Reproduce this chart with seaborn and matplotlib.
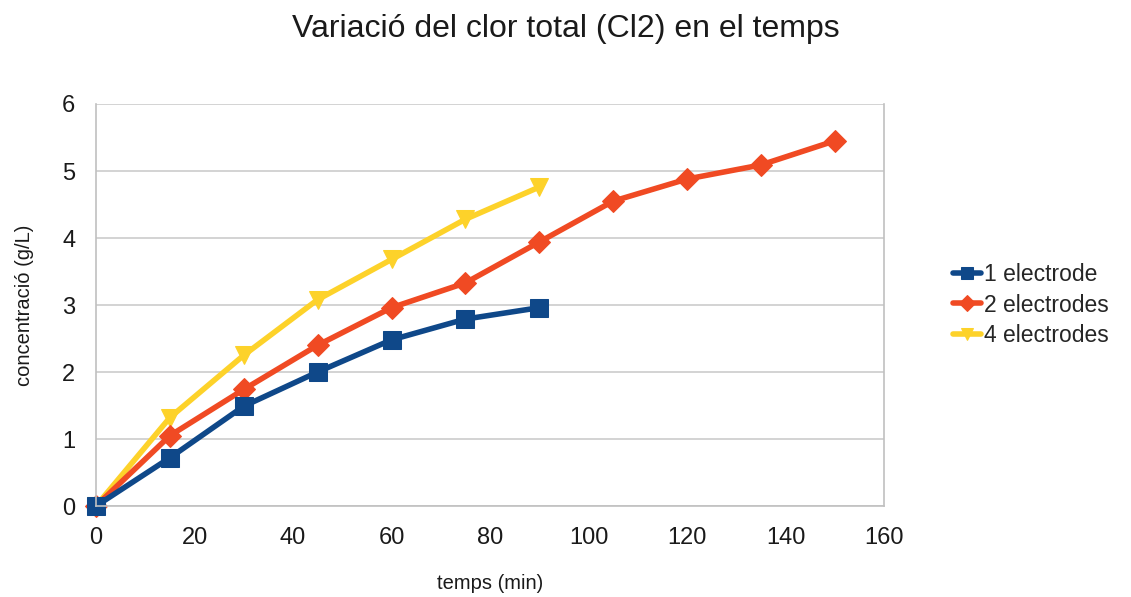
import matplotlib
matplotlib.use("Agg")
import matplotlib.pyplot as plt
import seaborn as sns
import pandas as pd

# Sampling times (min) and total chlorine concentration (g/L)
temps_1 = [0, 15, 30, 45, 60, 75, 90]
conc_1 = [0.0, 0.72, 1.49, 2.0, 2.48, 2.79, 2.96]

temps_2 = [0, 15, 30, 45, 60, 75, 90, 105, 120, 135, 150]
conc_2 = [0.0, 1.05, 1.74, 2.40, 2.96, 3.33, 3.94, 4.55, 4.88, 5.09, 5.45]

temps_4 = [0, 15, 30, 45, 60, 75, 90]
conc_4 = [0.0, 1.32, 2.25, 3.08, 3.68, 4.28, 4.76]

series_names = ["1 electrode", "2 electrodes", "4 electrodes"]
series_colors = ["#0f4889", "#f04a23", "#fdd22a"]
series_markers = ["s", "D", "v"]
series_msize = [13, 11, 13]

x_ticks = [0, 20, 40, 60, 80, 100, 120, 140, 160]
y_ticks = [0, 1, 2, 3, 4, 5, 6]

frames = []
for name, t, c in zip(series_names, [temps_1, temps_2, temps_4], [conc_1, conc_2, conc_4]):
    frames.append(pd.DataFrame({"temps": t, "conc": c, "serie": name}))
df = pd.concat(frames, ignore_index=True)

sns.set_theme(style="white")
plt.rcParams["font.family"] = ["Liberation Sans", "DejaVu Sans"]

fig = plt.figure(figsize=(11.31, 5.97), dpi=100)
ax = fig.add_axes([0.0849, 0.1524, 0.6967, 0.6734])

# draw in reverse so the first series sits on top
for name, col, mk, ms in reversed(list(zip(series_names, series_colors, series_markers, series_msize))):
    sub = df[df["serie"] == name]
    sns.lineplot(data=sub, x="temps", y="conc", ax=ax, color=col, linewidth=4.0,
                 marker=mk, markersize=ms, markeredgecolor=col, label=name,
                 estimator=None, sort=False, clip_on=False)

ax.set_xlim(0, 160)
ax.set_ylim(0, 6)
ax.set_xticks(x_ticks)
ax.set_yticks(y_ticks)
ax.tick_params(axis="both", labelsize=17, colors="#1a1a1a", pad=7)
ax.tick_params(axis="x", direction="out", length=8, color="#c0c0c0", width=1.2)
ax.tick_params(axis="y", direction="out", length=8, color="#c0c0c0", width=1.2)
ax.grid(axis="y", color="#cccccc", linewidth=1.2)
ax.set_axisbelow(True)
for side in ["left", "bottom", "right"]:
    ax.spines[side].set_color("#c0c0c0")
    ax.spines[side].set_linewidth(1.2)
ax.spines["top"].set_visible(False)

ax.set_xlabel("temps (min)", fontsize=14.5, color="#1a1a1a", labelpad=18)
ax.set_ylabel("concentració (g/L)", fontsize=14.5, color="#1a1a1a", labelpad=20)
fig.suptitle("Variació del clor total (Cl2) en el temps", fontsize=23, color="#1a1a1a", y=0.977)

handles, labels = ax.get_legend_handles_labels()
order = [labels.index(n) for n in series_names]
ax.legend([handles[i] for i in order], [labels[i] for i in order],
          loc="center left", bbox_to_anchor=(1.088, 0.5), frameon=False,
          borderpad=0, borderaxespad=0,
          fontsize=16.5, handlelength=1.2, handletextpad=0.15, labelspacing=0.33,
          markerscale=0.7)

fig.savefig("out.png", dpi=100)
